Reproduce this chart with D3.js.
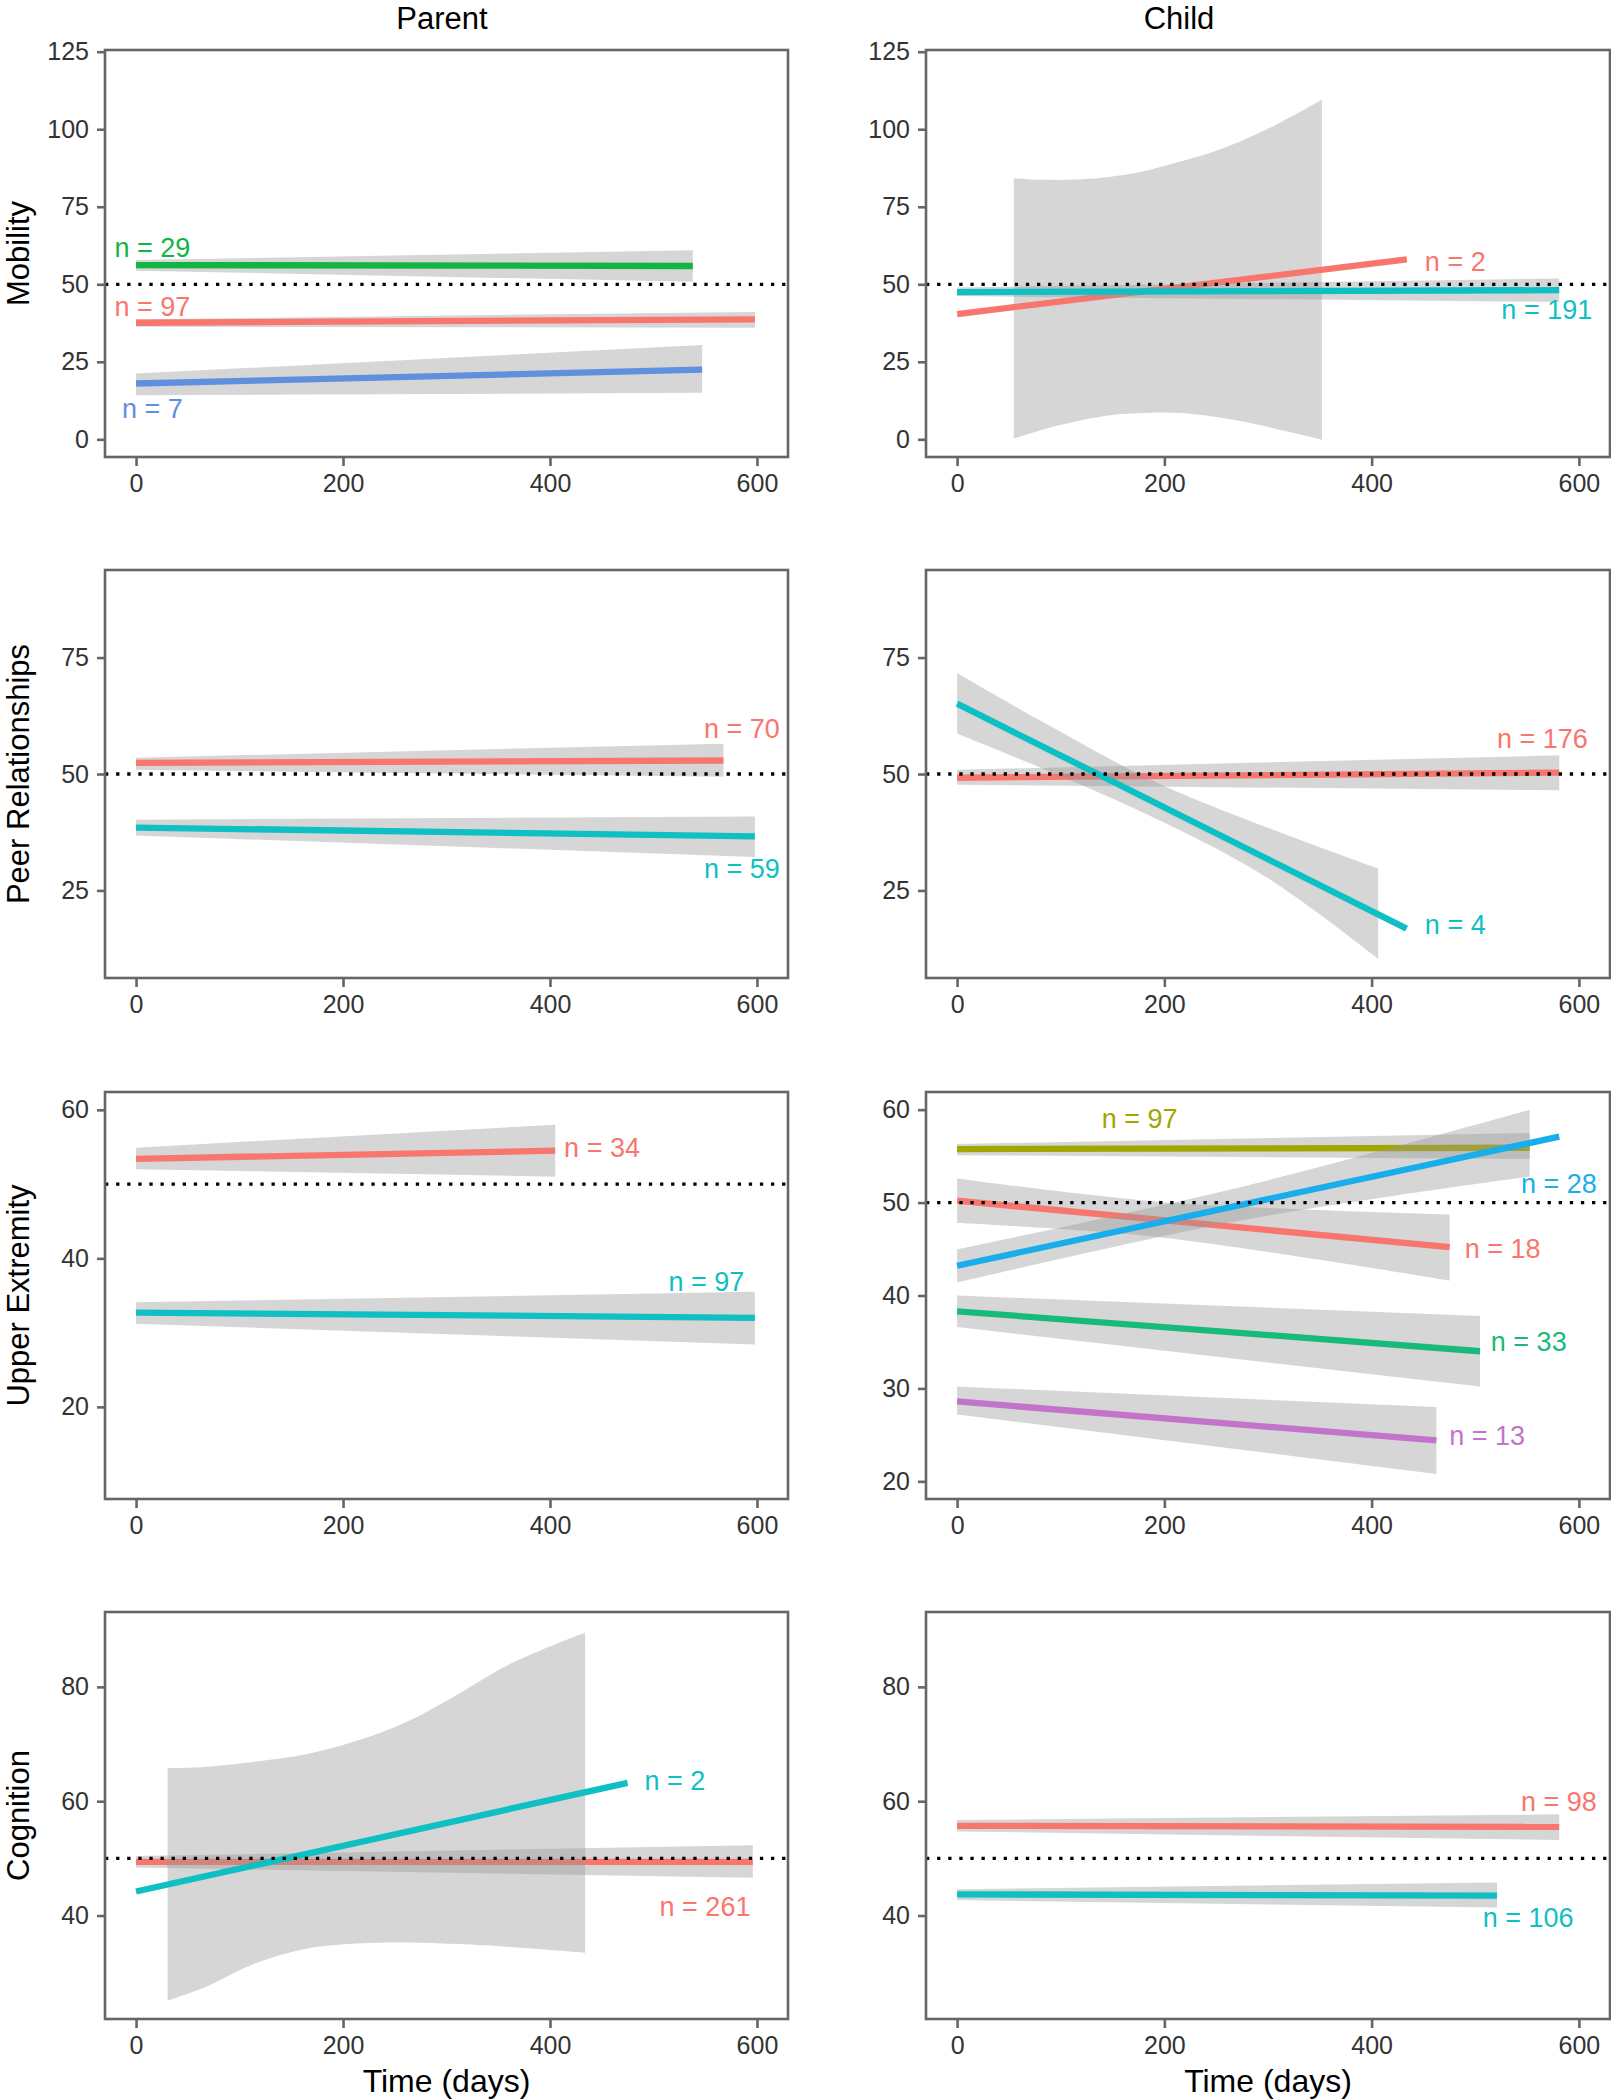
<!DOCTYPE html>
<html><head><meta charset="utf-8">
<script src="https://cdn.jsdelivr.net/npm/d3@7"></script>
<style>body{margin:0;background:#fff}</style>
</head><body>
<svg id="chart" width="1611" height="2100"></svg>
<script>
// ---------- data ----------
const raters = ["Parent", "Child"];
const measures = ["Mobility", "Peer Relationships", "Upper Extremity", "Cognition"];
const xTicks = [0, 200, 400, 600];
const xDomain = [-30, 630];
const refValue = 50;
const yDomains = [
  [[-5.7, 125.55], [-5.7, 125.55]],
  [[6.2, 93.8], [6.2, 93.8]],
  [[7.6, 62.4], [18.1, 61.9]],
  [[21.9, 93.1], [21.9, 93.1]]
];
const yTicks = [
  [[0, 25, 50, 75, 100, 125], [0, 25, 50, 75, 100, 125]],
  [[25, 50, 75], [25, 50, 75]],
  [[20, 40, 60], [20, 30, 40, 50, 60]],
  [[40, 60, 80], [40, 60, 80]]
];

// each series: n, colour key, fitted line [day, score], ribbon upper / lower edges, label position
const mobilityParent = [
  {n: 97, key: "red3", line: [[0, 37.6], [598, 38.7]], hi: [[0, 38.7], [598, 41.1]], lo: [[0, 36.3], [598, 36.0]], label: [15.7, 42.7]},
  {n: 29, key: "green3", line: [[0, 56.2], [538, 55.9]], hi: [[0, 57.8], [538, 61.0]], lo: [[0, 54.4], [538, 50.8]], label: [15.7, 61.7]},
  {n: 7, key: "blue3", line: [[0, 18.0], [547, 22.5]], hi: [[0, 21.2], [547, 30.4]], lo: [[0, 14.2], [547, 15.0]], label: [15.7, 10.0]}
];
const mobilityChild = [
  {n: 2, key: "red2", line: [[0, 40.4], [434, 58.0]],
   hi: [[54.7, 84.2], [83, 83.7], [128, 84.0], [173, 86.0], [198, 88.0], [248, 92.8], [298, 99.8], [352, 109.5]],
   lo: [[54.7, 0.2], [98, 4.5], [148, 7.8], [188, 8.6], [223, 8.3], [273, 5.9], [352, -0.1]], label: [480.7, 57.3]},
  {n: 191, key: "cyan2", line: [[0, 47.5], [581, 48.1]], hi: [[0, 49.0], [581, 51.9]], lo: [[0, 46.2], [581, 44.3]], label: [569, 41.7]}
];
const peerParent = [
  {n: 70, key: "red2", line: [[0, 52.4], [567.6, 52.9]], hi: [[0, 53.5], [567.6, 56.5]], lo: [[0, 50.9], [567.6, 49.4]], label: [585.5, 59.8]},
  {n: 59, key: "cyan2", line: [[0, 38.5], [598, 36.6]], hi: [[0, 40.2], [598, 40.9]], lo: [[0, 36.8], [598, 32.2]], label: [585.5, 29.7]}
];
const peerChild = [
  {n: 176, key: "red2", line: [[0, 49.2], [581, 50.3]], hi: [[0, 50.9], [581, 54.0]], lo: [[0, 47.7], [581, 46.5]], label: [564.7, 57.6]},
  {n: 4, key: "cyan2", line: [[0, 65.1], [433.7, 16.8]],
   hi: [[0, 71.7], [88, 60.5], [198, 47.6], [406.3, 29.7]],
   lo: [[0, 58.7], [168, 42.9], [298, 27.9], [406.3, 10.3]], label: [480.7, 17.7]}
];
const upperParent = [
  {n: 34, key: "red2", line: [[0, 53.4], [405, 54.5]], hi: [[0, 54.9], [405, 58.0]], lo: [[0, 52.0], [405, 51.0]], label: [450.3, 54.9]},
  {n: 97, key: "cyan2", line: [[0, 32.7], [598, 32.0]], hi: [[0, 34.1], [598, 35.5]], lo: [[0, 31.2], [598, 28.4]], label: [551.2, 36.9]}
];
const upperChild = [
  {n: 18, key: "red5", line: [[0, 50.2], [475.3, 45.2]], hi: [[0, 52.6], [193, 50.1], [475.3, 48.7]], lo: [[0, 47.8], [193, 46.3], [475.3, 41.6]], label: [526.5, 45.0]},
  {n: 97, key: "olive5", line: [[0, 55.76], [552.5, 55.9]], hi: [[0, 56.3], [552.5, 57.5]], lo: [[0, 55.1], [552.5, 54.7]], label: [176.2, 59.0]},
  {n: 33, key: "green5", line: [[0, 38.3], [504.6, 34.0]], hi: [[0, 40.0], [504.6, 37.8]], lo: [[0, 36.6], [504.6, 30.2]], label: [551.6, 35.0]},
  {n: 28, key: "blue5", line: [[0, 43.2], [581, 57.1]], hi: [[0, 44.96], [280, 51.85], [552.5, 60.0]], lo: [[0, 41.4], [280, 48.2], [552.5, 52.8]], label: [580.6, 52.0]},
  {n: 13, key: "magenta5", line: [[0, 28.6], [462.5, 24.4]], hi: [[0, 30.2], [462.5, 28.0]], lo: [[0, 27.2], [462.5, 20.8]], label: [511.4, 24.9]}
];
const cognitionParent = [
  {n: 261, key: "red2", line: [[0, 49.4], [596, 49.4]], hi: [[0, 50.4], [596, 52.3]], lo: [[0, 48.4], [596, 46.6]], label: [549.8, 41.6]},
  {n: 2, key: "cyan2", line: [[0, 44.2], [475, 63.2]],
   hi: [[30.5, 65.8], [66, 66.0], [115, 66.9], [164.5, 68.2], [213.8, 70.6], [263, 74.0], [312, 78.8], [361.5, 84.0], [434, 89.5]],
   lo: [[30.5, 25.1], [66, 27.4], [115, 31.6], [164.5, 34.2], [213.8, 35.1], [263, 35.3], [312, 35.0], [361.5, 34.5], [434, 33.5]], label: [520.8, 63.6]}
];
const cognitionChild = [
  {n: 98, key: "red2", line: [[0, 55.7], [581, 55.5]], hi: [[0, 56.7], [581, 57.7]], lo: [[0, 54.7], [581, 53.2]], label: [580.6, 59.9]},
  {n: 106, key: "cyan2", line: [[0, 43.7], [521, 43.5]], hi: [[0, 44.6], [521, 45.8]], lo: [[0, 42.7], [521, 41.4]], label: [551.1, 39.7]}
];
const panelSeries = [
  [mobilityParent, mobilityChild],
  [peerParent, peerChild],
  [upperParent, upperChild],
  [cognitionParent, cognitionChild]
];

// ---------- style ----------
const colours = {
  red3: "#F8766D", green3: "#12B443", blue3: "#5F8FDF",
  red2: "#F8766D", cyan2: "#0EBFC3",
  red5: "#F8766D", olive5: "#A3A500", green5: "#17BA7A", blue5: "#18AEEC", magenta5: "#C373C9"
};
const FONT = "'Liberation Sans', Arial, Helvetica, sans-serif";
const colLeft = [105, 926], colRight = [788, 1610];
const rowTop = [50, 570, 1092, 1612], rowBottom = [457, 978, 1499, 2019];

const svg = d3.select("#chart").style("font-family", FONT);
svg.append("rect").attr("width", 1611).attr("height", 2100).attr("fill", "#fff");
const defs = svg.append("defs");

measures.forEach((m, r) => {
  raters.forEach((rt, c) => {
    const x = d3.scaleLinear().domain(xDomain).range([colLeft[c], colRight[c]]);
    const y = d3.scaleLinear().domain(yDomains[r][c]).range([rowBottom[r], rowTop[r]]);
    const clipId = `clip-${r}-${c}`;
    defs.append("clipPath").attr("id", clipId).append("rect")
      .attr("x", colLeft[c]).attr("y", rowTop[r])
      .attr("width", colRight[c] - colLeft[c]).attr("height", rowBottom[r] - rowTop[r]);

    const g = svg.append("g");
    const plot = g.append("g").attr("clip-path", `url(#${clipId})`);
    const lineGen = d3.line().x(d => x(d[0])).y(d => y(d[1]));
    const edgeGen = d3.line().x(d => x(d[0])).y(d => y(d[1])).curve(d3.curveCatmullRom.alpha(0.5));

    panelSeries[r][c].forEach(s => {
      const upper = edgeGen(s.hi);
      const lower = edgeGen(s.lo.slice().reverse());
      plot.append("path")
        .attr("d", upper + "L" + lower.slice(1) + "Z")
        .attr("fill", "#999999").attr("fill-opacity", 0.4);
      plot.append("path")
        .attr("d", lineGen(s.line))
        .attr("fill", "none").attr("stroke", colours[s.key])
        .attr("stroke-width", 6.3).attr("stroke-linecap", "butt");
    });
    panelSeries[r][c].forEach(s => {
      g.append("text")
        .attr("x", x(s.label[0])).attr("y", y(s.label[1]))
        .attr("dy", "0.35em").attr("text-anchor", "middle")
        .attr("font-size", 27).attr("fill", colours[s.key])
        .text(`n = ${s.n}`);
    });

    // dotted reference line
    plot.append("line")
      .attr("x1", colLeft[c]).attr("x2", colRight[c])
      .attr("y1", y(refValue)).attr("y2", y(refValue))
      .attr("stroke", "#000").attr("stroke-width", 3.3)
      .attr("stroke-dasharray", "3.3,7.8");

    // axes
    const ya = g.append("g").attr("transform", `translate(${colLeft[c]},0)`)
      .call(d3.axisLeft(y).tickValues(yTicks[r][c]).tickSize(8).tickPadding(8).tickFormat(d3.format("d")));
    const xa = g.append("g").attr("transform", `translate(0,${rowBottom[r]})`)
      .call(d3.axisBottom(x).tickValues(xTicks).tickSize(9).tickPadding(8).tickFormat(d3.format("d")));
    [ya, xa].forEach(a => {
      a.select(".domain").remove();
      a.selectAll(".tick line").attr("stroke", "#666").attr("stroke-width", 2.6);
      a.selectAll(".tick text").attr("fill", "#333").attr("font-size", 25).attr("font-family", FONT);
    });

    // panel border
    g.append("rect")
      .attr("x", colLeft[c]).attr("y", rowTop[r])
      .attr("width", colRight[c] - colLeft[c]).attr("height", rowBottom[r] - rowTop[r])
      .attr("fill", "none").attr("stroke", "#666").attr("stroke-width", 2.6);
  });

  // row title
  const cy = (rowTop[r] + rowBottom[r]) / 2;
  svg.append("text")
    .attr("transform", `translate(29,${cy}) rotate(-90)`)
    .attr("text-anchor", "middle").attr("font-size", 31).attr("fill", "#000")
    .text(m);
});

// column titles
const titleX = [442, 1179];
raters.forEach((rt, c) => {
  svg.append("text").attr("x", titleX[c]).attr("y", 29)
    .attr("text-anchor", "middle").attr("font-size", 31).attr("fill", "#000").text(rt);
  svg.append("text").attr("x", (colLeft[c] + colRight[c]) / 2).attr("y", 2092)
    .attr("text-anchor", "middle").attr("font-size", 32).attr("fill", "#000").text("Time (days)");
});
</script>
</body></html>
